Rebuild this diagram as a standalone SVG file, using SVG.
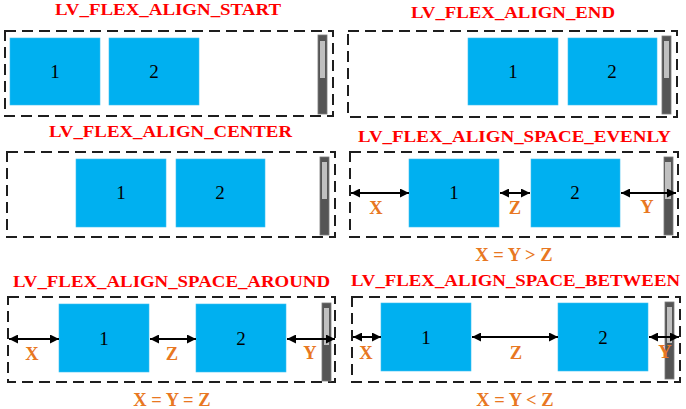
<svg xmlns="http://www.w3.org/2000/svg" width="686" height="409" viewBox="0 0 686 409">
<style>
.frame{fill:none;stroke:#1e1e1e;stroke-width:2;stroke-dasharray:11 6}
.box{fill:#00B0F0;stroke:#3cc0f2;stroke-width:0.6}
.num{font-family:"Liberation Serif",serif;font-size:19px;fill:#000;text-anchor:middle}
.title{font-family:"Liberation Serif",serif;font-weight:bold;font-size:17.5px;fill:#FF0000;text-anchor:middle}
.lbl{font-family:"Liberation Serif",serif;font-weight:bold;font-size:18.5px;fill:#E87722;text-anchor:middle}
.sb{fill:#555555;stroke:#7a7a7a;stroke-width:0.8}
.thumb{fill:#C0C0C0}
.arr{stroke:#000;stroke-width:2;fill:none;marker-start:url(#ah);marker-end:url(#ah)}
</style>
<defs>
<marker id="ah" viewBox="0 0 10 10" refX="10" refY="5" markerWidth="9" markerHeight="9" markerUnits="userSpaceOnUse" orient="auto-start-reverse">
<path d="M0,0 L10,5 L0,10 z" fill="#000"/>
</marker>
</defs>
<rect width="686" height="409" fill="#fff"/>

<g id="panel-start">
<text class="title" x="168" y="15" textLength="226" lengthAdjust="spacingAndGlyphs">LV_FLEX_ALIGN_START</text>
<rect class="frame" x="5" y="31" width="328" height="85"/>
<g id="start-item1"><rect class="box" x="10" y="38" width="90" height="67"/><text class="num" x="55" y="78">1</text></g>
<g id="start-item2"><rect class="box" x="109" y="38" width="90" height="67"/><text class="num" x="154" y="78">2</text></g>
<rect class="sb" x="318" y="35" width="9" height="79"/><rect class="thumb" x="320" y="41" width="5" height="37"/>
</g>

<g id="panel-end">
<text class="title" x="513" y="18" textLength="204" lengthAdjust="spacingAndGlyphs">LV_FLEX_ALIGN_END</text>
<rect class="frame" x="348" y="31" width="329" height="86"/>
<g id="end-item1"><rect class="box" x="468" y="38" width="90" height="67"/><text class="num" x="513" y="78">1</text></g>
<g id="end-item2"><rect class="box" x="568" y="38" width="89" height="67"/><text class="num" x="612" y="78">2</text></g>
<rect class="sb" x="662" y="36" width="9" height="78"/><rect class="thumb" x="664" y="41" width="5" height="37"/>
</g>

<g id="panel-center">
<text class="title" x="170.5" y="137" textLength="243" lengthAdjust="spacingAndGlyphs">LV_FLEX_ALIGN_CENTER</text>
<rect class="frame" x="7" y="152" width="328" height="85"/>
<g id="center-item1"><rect class="box" x="76" y="159" width="90" height="68"/><text class="num" x="121" y="199">1</text></g>
<g id="center-item2"><rect class="box" x="176" y="159" width="89" height="68"/><text class="num" x="220" y="199">2</text></g>
<rect class="sb" x="320" y="157" width="9" height="78"/><rect class="thumb" x="322" y="162" width="5" height="37"/>
</g>

<g id="panel-evenly">
<text class="title" x="514.5" y="142" textLength="313" lengthAdjust="spacingAndGlyphs">LV_FLEX_ALIGN_SPACE_EVENLY</text>
<rect class="frame" x="350" y="152" width="328" height="85"/>
<g id="evenly-item1"><rect class="box" x="409" y="159" width="90" height="68"/><text class="num" x="454" y="199">1</text></g>
<g id="evenly-item2"><rect class="box" x="531" y="159" width="89" height="68"/><text class="num" x="575" y="199">2</text></g>
<rect class="sb" x="664" y="157" width="9" height="78"/><rect class="thumb" x="665" y="162" width="6" height="37"/>
<text class="lbl" x="376" y="214">X</text>
<text class="lbl" x="515" y="214">Z</text>
<text class="lbl" x="647" y="213">Y</text>
<text class="lbl" x="514" y="261">X = Y &gt; Z</text>
</g>

<g id="panel-around">
<text class="title" x="171.5" y="287" textLength="317" lengthAdjust="spacingAndGlyphs">LV_FLEX_ALIGN_SPACE_AROUND</text>
<rect class="frame" x="8" y="297" width="327" height="85"/>
<g id="around-item1"><rect class="box" x="59" y="304" width="90" height="68"/><text class="num" x="104" y="345">1</text></g>
<g id="around-item2"><rect class="box" x="196" y="304" width="90" height="68"/><text class="num" x="241" y="345">2</text></g>
<rect class="sb" x="322" y="303" width="9" height="78"/><rect class="thumb" x="324" y="308" width="5" height="37"/>
<text class="lbl" x="32" y="360">X</text>
<text class="lbl" x="172" y="360">Z</text>
<text class="lbl" x="310" y="359">Y</text>
<text class="lbl" x="172" y="406">X = Y = Z</text>
</g>

<g id="panel-between">
<text class="title" x="515.5" y="286" textLength="329" lengthAdjust="spacingAndGlyphs">LV_FLEX_ALIGN_SPACE_BETWEEN</text>
<rect class="frame" x="352" y="297" width="328" height="85"/>
<g id="between-item1"><rect class="box" x="381" y="303" width="90" height="68"/><text class="num" x="426" y="344">1</text></g>
<g id="between-item2"><rect class="box" x="558" y="303" width="90" height="68"/><text class="num" x="603" y="344">2</text></g>
<rect class="sb" x="665" y="302" width="9" height="77"/><rect class="thumb" x="667" y="307" width="5" height="36"/>
<text class="lbl" x="366" y="359">X</text>
<text class="lbl" x="516" y="359">Z</text>
<text class="lbl" x="665" y="358">Y</text>
<text class="lbl" x="515" y="406">X = Y &lt; Z</text>
</g>

<g id="connectors">
<line class="arr" x1="351" y1="193" x2="409" y2="193"/>
<line class="arr" x1="500" y1="193" x2="530" y2="193"/>
<line class="arr" x1="621" y1="193" x2="676" y2="193"/>
<line class="arr" x1="9" y1="339" x2="59" y2="339"/>
<line class="arr" x1="150" y1="339" x2="196" y2="339"/>
<line class="arr" x1="287" y1="339" x2="335" y2="339"/>
<line class="arr" x1="353" y1="337" x2="381" y2="337"/>
<line class="arr" x1="472" y1="337" x2="558" y2="337"/>
<line class="arr" x1="649" y1="337" x2="679" y2="337"/>
</g>
</svg>
